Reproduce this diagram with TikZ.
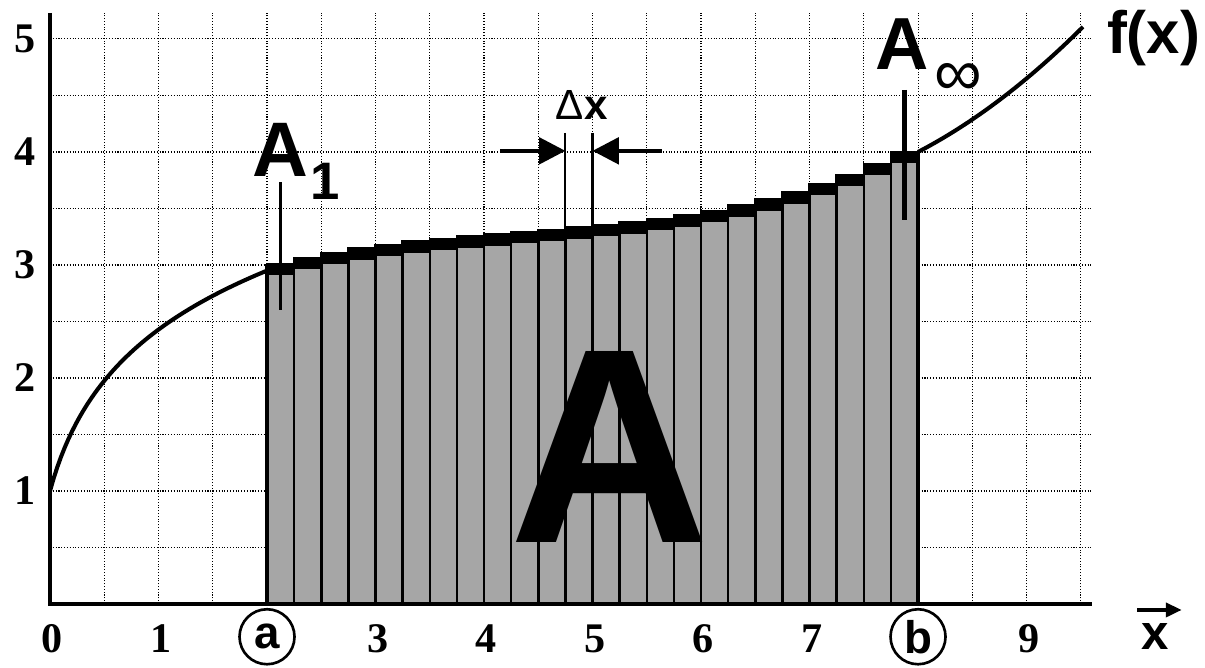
\documentclass[tikz,border=0pt]{standalone}
\usepackage{fontspec}
\setmainfont{Liberation Serif}
\newfontfamily\hv{Liberation Sans}
\usetikzlibrary{arrows.meta}
\begin{document}
\begin{tikzpicture}[x=2.17cm,y=2.26cm,
  grid/.style={densely dotted,line width=.6pt},
  axis/.style={line width=2.3pt},
  curve/.style={line width=2.3pt},
  bar/.style={fill=black!35,draw=black,line width=1.4pt},
  num/.style={font=\fontsize{24}{24}\selectfont\bfseries},
  circ/.style={circle,draw,line width=1.5pt,inner sep=0pt,minimum size=1.1cm,font=\hv\fontsize{26}{26}\selectfont},
  lbl/.style={font=\hv\bfseries\fontsize{#1}{#1}\selectfont,inner sep=0pt},
  pin/.style={line width=1.6pt},
  dxarrow/.style={line width=2.4pt,-{Triangle[length=15pt,width=15pt]}},
  declare function={fl(\x)=1+0.8875*ln(1+4*\x);
    fr(\x)=3.33+0.084*(\x-5)+0.016*(\x-5)*(\x-5)+0.0101*(\x-5)*(\x-5)*(\x-5);
    fe(\x)=4+0.5*(\x-8)+0.15*(\x-8)*(\x-8);}]
\useasboundingbox (-0.461,-0.558) rectangle (10.645,5.345);
% grid
\foreach \g in {0.5,1,...,9.5} \draw[grid] (\g,0)--(\g,5.23);
\foreach \g in {0.5,1,...,5} \draw[grid] (0,\g)--(9.6,\g);
% bars
\foreach \i in {0,...,23}{\pgfmathsetmacro\xl{2+0.25*\i}\pgfmathsetmacro\xr{\xl+0.25}\pgfmathsetmacro\h{fr(\xr)}
  \filldraw[bar] (\xl,0) rectangle (\xr,\h);\fill (\xl,\h-0.1) rectangle (\xr,\h);}
\draw[line width=2.5pt] (2,0)--(2,{fr(2.25)});\draw[line width=2.5pt] (8,0)--(8,4);
% curve
\draw[curve] plot[domain=0:2,samples=60] (\x,{fl(\x)});
\draw[curve] plot[domain=8:9.52,samples=30] (\x,{fe(\x)});
\draw[axis] (0,5.23)--(0,0)--(9.6,0);
% labels
\foreach \n in {1,...,5} \node[num] (y\n) at (-0.23,\n) {\n};
\foreach \n in {0,1,3,4,5,6,7,9} \node[num,anchor=base] (x\n) at (\n+0.02,-0.43) {\n};
\node[circ] (a) at (2,-0.29) {\textbf{a}};\node[circ] (b) at (8,-0.29) {\textbf{b}};
\node[lbl=34] (fx) at (10.17,5.01) {f(x)};
\node[lbl=158,anchor=base] (bigA) at (5.16,0.54) {A};
\node[lbl=44,anchor=base] (aone) at (2.12,3.78) {A};\node[lbl=30,anchor=base] (one) at (2.54,3.58) {1};
\node[lbl=42,anchor=base] (ainf) at (7.85,4.73) {A};\node[font=\hv\fontsize{38}{38}\selectfont,inner sep=0pt] (inf) at (8.37,4.64) {∞};
\coordinate (p1) at (2.125,3.73);\coordinate (q1) at (2.125,2.6);\draw[pin] (p1)--(q1);
\coordinate (p2) at (7.875,4.55);\coordinate (q2) at (7.875,3.4);\draw[line width=2.8pt] (p2)--(q2);
% delta x
\node[font=\hv\fontsize{24}{24}\selectfont] (dx) at (4.9,4.42) {Δ\textbf{x}};
\coordinate (d1t) at (4.75,4.17);\coordinate (d1b) at (4.75,3.3);\draw[line width=1.2pt] (d1t)--(d1b);
\coordinate (d2t) at (5,4.17);\coordinate (d2b) at (5,3.33);\draw[line width=1.2pt] (d2t)--(d2b);
\coordinate (l0) at (4.15,4.01);\coordinate (l1) at (4.75,4.01);\draw[dxarrow] (l0)--(l1);
\coordinate (r0) at (5.64,4.01);\coordinate (r1) at (5,4.01);\draw[dxarrow] (r0)--(r1);
% x axis label
\node[lbl=28] (xl) at (10.19,-0.29) {x};
\coordinate (xa) at (10.02,-0.053);\coordinate (xb) at (10.43,-0.053);
\draw[line width=2pt,-{Triangle[length=9pt,width=8pt]}] (xa)--(xb);
\end{tikzpicture}
\end{document}
